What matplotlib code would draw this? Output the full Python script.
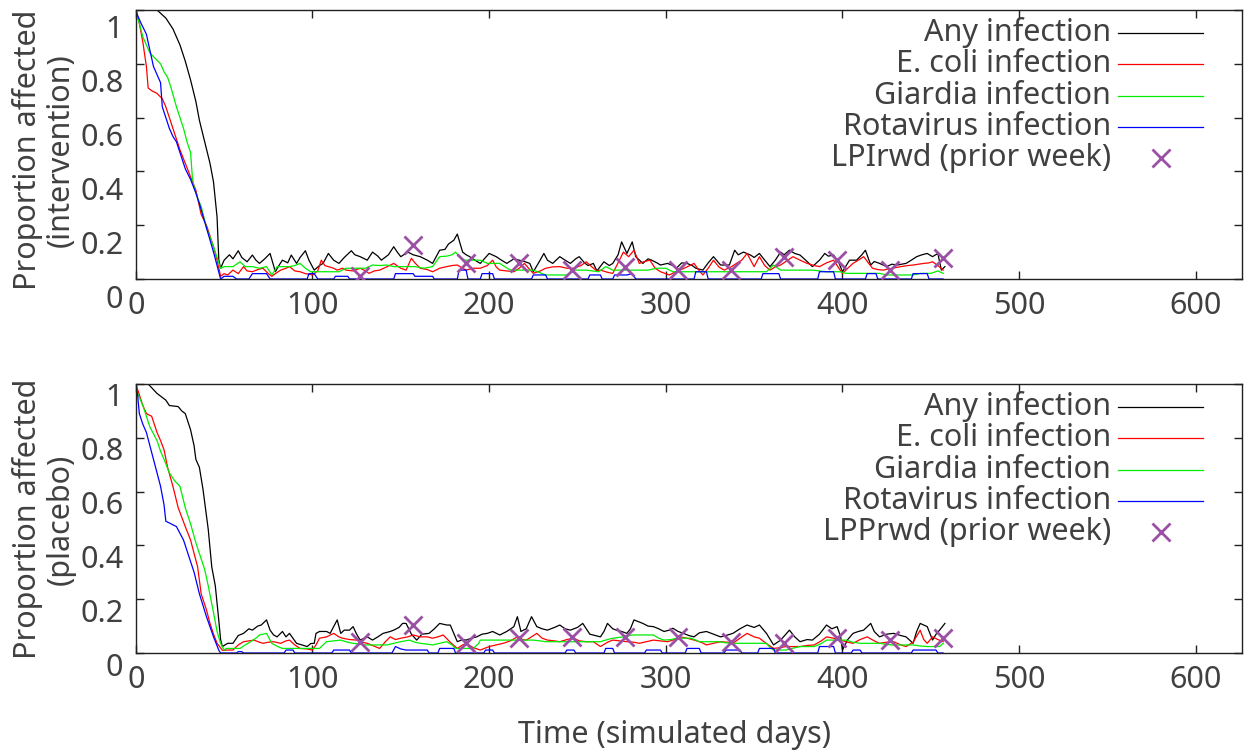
#
# Infection curves, intervention vs placebo (gnuplot look)
#
import numpy as np
import matplotlib
matplotlib.use("Agg")
import matplotlib.pyplot as plt
import matplotlib.transforms as mtransforms

plt.rcParams['font.family'] = ['Noto Sans', 'DejaVu Sans']

#
# Data: (day, proportion)
#
top_any = [(0,1.0),(12,1.0),(17,0.97),(21,0.93),(25,0.87),(28,0.81),(31,0.74),(34,0.66),(36,0.59),(39,0.51),(42,0.43),(44,0.36),(46,0.23),(47,0.07),(48,0.04),
           (50,0.07),(53,0.09),(55,0.075),(58,0.105),(60,0.08),(63,0.064),(66,0.089),(68,0.07),(70,0.058),(73,0.075),(76,0.095),(79,0.027),(81,0.05),(83,0.07),(86,0.06),
           (88,0.089),(91,0.058),(93,0.08),(96,0.105),(98,0.07),(101,0.033),(104,0.05),(106,0.058),(109,0.095),(112,0.07),(115,0.058),(118,0.08),(122,0.105),(124,0.09),
           (127,0.083),(131,0.07),(134,0.10),(137,0.085),(139,0.07),(143,0.09),(146,0.12),(148,0.10),(150,0.083),(154,0.10),(157,0.09),(161,0.083),(165,0.07),(168,0.058),
           (172,0.107),(175,0.11),(177,0.13),(180,0.144),(182,0.167),(185,0.10),(187,0.09),(189,0.083),(192,0.07),(195,0.058),(198,0.08),(200,0.095),(204,0.083),(207,0.07),
           (210,0.058),(214,0.075),(217,0.07),(220,0.065),(223,0.058),(225,0.027),(228,0.06),(231,0.095),(233,0.07),(236,0.058),(240,0.083),(243,0.07),(246,0.058),(249,0.075),
           (251,0.083),(254,0.06),(256,0.05),(259,0.058),(261,0.03),(265,0.064),(268,0.05),(270,0.058),(273,0.09),(275,0.138),(278,0.095),(281,0.138),(283,0.083),(287,0.058),
           (290,0.075),(292,0.07),(295,0.06),(297,0.052),(301,0.058),(304,0.05),(306,0.04),(309,0.06),(312,0.058),(315,0.05),(317,0.04),(321,0.033),(324,0.06),(327,0.083),
           (331,0.052),(336,0.052),(339,0.107),(341,0.09),(344,0.10),(348,0.089),(350,0.08),(353,0.095),(356,0.07),(359,0.046),(362,0.07),(365,0.10),(367,0.09),(370,0.107),
           (373,0.095),(376,0.089),(380,0.065),(383,0.046),(387,0.07),(390,0.095),(392,0.085),(395,0.089),(398,0.06),(400,0.027),(404,0.07),(408,0.07),(411,0.09),(413,0.107),
           (416,0.052),(418,0.065),(421,0.058),(425,0.046),(428,0.055),(431,0.052),(436,0.058),(439,0.07),(442,0.083),(445,0.09),(448,0.095),(451,0.083),(454,0.095),(456,0.033),(458,0.046)]

top_ecoli = [(0,1.0),(2,0.95),(4,0.88),(6,0.79),(7,0.71),(9,0.70),(12,0.69),(15,0.67),(17,0.64),(19,0.60),(21,0.56),(25,0.48),(28,0.43),(31,0.38),(34,0.33),(37,0.24),
             (40,0.20),(42,0.16),(44,0.12),(46,0.07),(48,0.01),
             (50,0.02),(52,0.015),(55,0.033),(58,0.02),(61,0.046),(63,0.03),(66,0.027),(69,0.035),(72,0.04),(75,0.02),(77,0.01),(79,0.02),(82,0.033),(85,0.04),(87,0.046),
             (90,0.03),(93,0.027),(96,0.02),(100,0.015),(103,0.03),(105,0.07),(107,0.05),(109,0.046),(112,0.04),(114,0.033),(117,0.04),(119,0.033),(123,0.03),(127,0.04),
             (130,0.03),(132,0.021),(135,0.03),(138,0.033),(142,0.045),(146,0.058),(150,0.04),(153,0.033),(156,0.077),(158,0.06),(161,0.04),(165,0.035),(168,0.027),(172,0.04),
             (176,0.046),(179,0.05),(182,0.052),(185,0.04),(187,0.033),(191,0.04),(195,0.04),(199,0.05),(202,0.07),(204,0.045),(206,0.033),(210,0.03),(214,0.027),(217,0.04),
             (220,0.058),(223,0.035),(225,0.021),(229,0.03),(232,0.04),(236,0.045),(240,0.046),(244,0.04),(248,0.04),(252,0.05),(255,0.064),(258,0.046),(261,0.03),(263,0.033),
             (267,0.025),(270,0.021),(273,0.06),(276,0.10),(279,0.083),(282,0.107),(285,0.058),(288,0.065),(291,0.07),(294,0.04),(297,0.027),(302,0.015),(305,0.025),(308,0.033),
             (312,0.045),(316,0.058),(319,0.03),(321,0.015),(324,0.04),(327,0.07),(330,0.045),(333,0.033),(337,0.045),(340,0.058),(343,0.07),(346,0.095),(350,0.046),(353,0.083),
             (356,0.05),(359,0.033),(362,0.045),(365,0.052),(369,0.07),(372,0.083),(376,0.07),(380,0.058),(384,0.05),(387,0.046),(391,0.06),(395,0.07),(398,0.04),(400,0.021),
             (403,0.04),(406,0.058),(409,0.07),(412,0.083),(417,0.04),(420,0.035),(423,0.033),(428,0.04),(433,0.046),(437,0.05),(440,0.052),(443,0.055),(446,0.058),(449,0.06),
             (451,0.064),(454,0.05),(457,0.033)]

top_giardia = [(0,1.0),(2,0.95),(4,0.90),(6,0.87),(8,0.84),(11,0.82),(14,0.80),(16,0.77),(18,0.75),(20,0.71),(23,0.64),(25,0.60),(27,0.56),(29,0.51),(31,0.47),(32,0.38),
               (33,0.34),(35,0.30),(37,0.27),(40,0.19),(44,0.12),(46,0.08),(48,0.04),
               (50,0.046),(55,0.046),(57,0.055),(59,0.064),(62,0.046),(66,0.046),(70,0.04),(74,0.046),(77,0.015),(80,0.046),(87,0.046),(90,0.05),(93,0.058),(96,0.04),(99,0.027),
               (104,0.027),(110,0.027),(115,0.027),(119,0.04),(125,0.04),(130,0.04),(134,0.052),(138,0.05),(142,0.052),(146,0.046),(150,0.046),(158,0.046),(163,0.04),(168,0.046),
               (172,0.083),(176,0.085),(179,0.09),(181,0.10),(183,0.085),(186,0.07),(190,0.07),(195,0.07),(199,0.058),(203,0.058),(206,0.058),(212,0.033),(218,0.033),(225,0.033),
               (232,0.015),(238,0.015),(244,0.015),(248,0.033),(255,0.033),(262,0.027),(266,0.046),(270,0.033),(280,0.033),(290,0.033),(295,0.04),(300,0.04),(304,0.027),(315,0.027),
               (330,0.027),(345,0.027),(357,0.027),(361,0.052),(365,0.033),(375,0.033),(383,0.033),(391,0.027),(399,0.027),(402,0.021),(412,0.021),(421,0.021),(425,0.015),(433,0.015),
               (440,0.015),(444,0.021),(450,0.021),(454,0.03),(457,0.021)]

top_rota = [(0,1.0),(1,0.98),(3,0.95),(6,0.91),(8,0.85),(10,0.79),(12,0.76),(14,0.73),(15,0.64),(17,0.60),(19,0.56),(21,0.53),(23,0.51),(26,0.45),(28,0.41),(31,0.37),
            (34,0.32),(36,0.28),(40,0.19),(44,0.10),(46,0.05),(48,0.0),
            (50,0.01),(55,0.01),(57,0.0),(64,0.0),(66,0.02),(74,0.02),(76,0.0),(97,0.0),(98,0.02),(101,0.02),(103,0.0),(112,0.0),(113,0.01),(120,0.01),(121,0.0),(146,0.0),
            (147,0.02),(157,0.02),(158,0.01),(168,0.01),(169,0.0),(182,0.0),(183,0.033),(187,0.033),(188,0.0),(195,0.0),(196,0.02),(202,0.02),(203,0.0),(224,0.0),(225,0.015),
            (232,0.015),(233,0.0),(256,0.0),(257,0.015),(263,0.015),(264,0.0),(270,0.0),(271,0.015),(278,0.015),(281,0.02),(283,0.0),(316,0.0),(317,0.027),(323,0.027),(324,0.0),
            (354,0.0),(355,0.02),(364,0.02),(365,0.0),(386,0.0),(387,0.027),(395,0.027),(396,0.0),(413,0.0),(414,0.02),(419,0.02),(420,0.0),(439,0.0),(440,0.02),(448,0.02),
            (449,0.0),(457,0.0)]

top_rwd_day = [127, 157, 187, 217, 247, 277, 307, 337, 367, 397, 427, 457]
top_rwd_val = [0.01, 0.128, 0.058, 0.058, 0.033, 0.046, 0.033, 0.033, 0.083, 0.07, 0.033, 0.077]

bot_any = [(0,1.0),(7,1.0),(12,0.965),(17,0.94),(19,0.92),(24,0.916),(26,0.90),(28,0.89),(31,0.83),(33,0.77),(34,0.72),(36,0.69),(38,0.61),(41,0.46),(43,0.32),
           (45,0.25),(47,0.12),(48,0.05),(49,0.024),
           (52,0.036),(55,0.036),(58,0.065),(61,0.073),(64,0.09),(66,0.085),(69,0.10),(71,0.104),(74,0.123),(76,0.085),(78,0.067),(80,0.06),(83,0.08),(85,0.06),(87,0.073),
           (91,0.036),(94,0.03),(97,0.024),(99,0.035),(101,0.036),(102,0.073),(104,0.08),(108,0.08),(110,0.073),(114,0.123),(116,0.073),(118,0.085),(121,0.085),(123,0.098),
           (125,0.07),(127,0.048),(131,0.06),(134,0.048),(137,0.06),(140,0.073),(144,0.08),(146,0.085),(149,0.095),(151,0.11),(153,0.11),(156,0.07),(159,0.048),(162,0.07),
           (166,0.073),(169,0.09),(172,0.11),(176,0.104),(178,0.104),(182,0.042),(185,0.05),(187,0.048),(190,0.055),(193,0.06),(196,0.07),(199,0.073),(202,0.08),(206,0.067),
           (210,0.08),(214,0.098),(216,0.135),(218,0.08),(221,0.09),(224,0.135),(227,0.098),(230,0.09),(233,0.085),(237,0.095),(240,0.104),(243,0.09),(246,0.085),(250,0.095),
           (253,0.11),(257,0.07),(260,0.065),(263,0.06),(265,0.08),(267,0.11),(270,0.09),(272,0.085),(275,0.08),(278,0.073),(280,0.09),(282,0.123),(285,0.115),(287,0.11),
           (290,0.10),(293,0.098),(296,0.09),(299,0.08),(302,0.085),(304,0.092),(307,0.08),(310,0.073),(313,0.065),(316,0.06),(319,0.075),(323,0.08),(327,0.07),(331,0.06),
           (334,0.065),(338,0.073),(342,0.09),(346,0.104),(350,0.095),(353,0.104),(357,0.073),(361,0.03),(365,0.048),(368,0.07),(370,0.085),(373,0.06),(376,0.042),(380,0.05),
           (383,0.048),(387,0.07),(391,0.104),(394,0.09),(397,0.098),(399,0.06),(400,0.011),(403,0.05),(406,0.073),(409,0.08),(412,0.085),(416,0.11),(418,0.08),(421,0.06),
           (425,0.07),(429,0.073),(433,0.065),(436,0.06),(440,0.036),(442,0.08),(444,0.11),(448,0.098),(451,0.048),(453,0.07),(455,0.085),(458,0.11)]

bot_ecoli = [(0,1.0),(2,0.96),(4,0.92),(6,0.89),(9,0.88),(12,0.82),(14,0.79),(16,0.755),(18,0.69),(21,0.62),(24,0.54),(28,0.47),(31,0.42),(33,0.37),(35,0.32),(37,0.22),
             (40,0.16),(42,0.11),(44,0.07),(46,0.036),(49,0.01),
             (52,0.011),(55,0.011),(58,0.03),(61,0.042),(64,0.045),(67,0.048),(70,0.04),(72,0.036),(75,0.04),(78,0.042),(82,0.036),(85,0.045),(87,0.048),(90,0.03),(93,0.017),
             (97,0.015),(100,0.011),(102,0.03),(104,0.055),(108,0.06),(112,0.073),(115,0.06),(117,0.055),(121,0.05),(125,0.048),(128,0.04),(131,0.036),(135,0.025),(138,0.017),
             (141,0.04),(144,0.06),(147,0.05),(150,0.055),(154,0.06),(157,0.067),(161,0.06),(165,0.06),(168,0.055),(171,0.06),(174,0.067),(178,0.04),(182,0.017),(185,0.03),
             (187,0.036),(191,0.02),(195,0.011),(200,0.024),(204,0.03),(208,0.036),(212,0.045),(216,0.06),(219,0.05),(221,0.048),(224,0.06),(227,0.073),(230,0.055),(233,0.048),
             (237,0.045),(240,0.042),(244,0.05),(248,0.055),(251,0.045),(255,0.042),(259,0.042),(263,0.024),(267,0.04),(270,0.048),(274,0.045),(278,0.042),(282,0.04),(285,0.036),
             (289,0.042),(293,0.048),(297,0.045),(301,0.042),(305,0.05),(308,0.06),(312,0.055),(316,0.048),(320,0.04),(323,0.03),(327,0.036),(331,0.042),(335,0.04),(338,0.036),
             (342,0.055),(346,0.073),(350,0.06),(353,0.055),(357,0.035),(361,0.017),(365,0.02),(368,0.024),(372,0.024),(376,0.024),(380,0.028),(384,0.03),(388,0.045),(391,0.06),
             (395,0.055),(399,0.048),(403,0.04),(406,0.036),(410,0.05),(414,0.06),(418,0.045),(421,0.036),(425,0.04),(429,0.042),(433,0.03),(436,0.024),(440,0.04),(444,0.085),
             (446,0.05),(448,0.036),(451,0.06),(454,0.05),(457,0.042)]

bot_giardia = [(0,1.0),(1,0.965),(4,0.92),(6,0.88),(8,0.84),(12,0.79),(14,0.75),(16,0.72),(19,0.67),(22,0.64),(25,0.62),(28,0.54),(31,0.48),(34,0.41),(37,0.35),(39,0.31),
               (41,0.25),(44,0.15),(46,0.08),(48,0.036),(50,0.01),
               (51,0.017),(59,0.017),(62,0.03),(65,0.042),(68,0.055),(70,0.067),(74,0.073),(77,0.036),(80,0.025),(83,0.017),(93,0.017),(104,0.017),(106,0.03),(108,0.042),(112,0.045),
               (116,0.048),(120,0.04),(123,0.036),(127,0.033),(130,0.03),(142,0.03),(146,0.036),(150,0.042),(155,0.048),(158,0.04),(161,0.036),(165,0.033),(168,0.03),(172,0.036),
               (176,0.042),(179,0.03),(181,0.017),(191,0.017),(194,0.035),(195,0.048),(210,0.048),(225,0.048),(229,0.045),(232,0.042),(244,0.042),(263,0.042),(267,0.05),(270,0.055),
               (276,0.06),(281,0.067),(293,0.067),(296,0.055),(299,0.048),(303,0.05),(306,0.055),(314,0.055),(317,0.048),(319,0.042),(330,0.042),(334,0.038),(338,0.036),(357,0.036),
               (359,0.02),(361,0.011),(368,0.011),(372,0.018),(376,0.024),(384,0.024),(388,0.035),(391,0.048),(402,0.048),(406,0.04),(410,0.036),(421,0.036),(425,0.032),(428,0.03),
               (440,0.03),(444,0.026),(448,0.024),(455,0.024),(457,0.036)]

bot_rota = [(0,1.0),(1,0.96),(2,0.89),(4,0.85),(6,0.82),(8,0.77),(10,0.72),(12,0.67),(14,0.62),(16,0.55),(17,0.49),(20,0.48),(23,0.47),(25,0.445),(27,0.42),(30,0.36),
            (33,0.30),(36,0.22),(40,0.135),(44,0.06),(47,0.01),(48,0.0),
            (57,0.0),(58,0.005),(60,0.005),(61,0.0),(84,0.0),(85,0.011),(89,0.011),(90,0.0),(111,0.0),(112,0.011),(121,0.011),(122,0.0),(145,0.0),(147,0.024),(150,0.015),
            (153,0.011),(165,0.011),(166,0.0),(171,0.0),(172,0.017),(180,0.017),(181,0.0),(197,0.0),(198,0.011),(202,0.011),(203,0.0),(243,0.0),(244,0.011),(248,0.011),(249,0.0),
            (265,0.0),(266,0.017),(270,0.017),(271,0.0),(288,0.0),(289,0.011),(297,0.011),(298,0.0),(311,0.0),(312,0.017),(319,0.017),(320,0.0),(333,0.0),(334,0.011),(342,0.011),
            (343,0.0),(352,0.0),(353,0.017),(361,0.017),(362,0.0),(386,0.0),(387,0.024),(395,0.024),(396,0.0),(405,0.0),(406,0.011),(410,0.011),(411,0.0),(439,0.0),(440,0.011),
            (453,0.011),(454,0.0),(457,0.0)]

bot_rwd_day = [127, 157, 187, 217, 247, 277, 307, 337, 367, 397, 427, 457]
bot_rwd_val = [0.042, 0.104, 0.036, 0.055, 0.06, 0.06, 0.06, 0.042, 0.036, 0.055, 0.048, 0.055]

series_names = ['Any infection', 'E. coli infection', 'Giardia infection', 'Rotavirus infection']
series_colors = ['#000000', '#ff0000', '#00ee00', '#0000ff']
marker_color = '#9b4fa5'
text_color = '#404040'

#
# Figure
#
W, H = 1244, 751
fig = plt.figure(figsize=(W / 100, H / 100), dpi=100)

def px_axes(left, top, right, bottom):
    return fig.add_axes([left / W, 1 - bottom / H, (right - left) / W, (bottom - top) / H])

ax_top = px_axes(135.8, 10, 1241.7, 279)
ax_bot = px_axes(135.8, 384, 1241.7, 653)

panels = [
    (ax_top, [top_any, top_ecoli, top_giardia, top_rota], top_rwd_day, top_rwd_val,
     'LPIrwd (prior week)', 'Proportion affected\n(intervention)', 17),
    (ax_bot, [bot_any, bot_ecoli, bot_giardia, bot_rota], bot_rwd_day, bot_rwd_val,
     'LPPrwd (prior week)', 'Proportion affected\n(placebo)', 11),
]

for ax, curves, mday, mval, mname, ylab, yoff in panels:
    for pts, col in zip(curves, series_colors):
        arr = np.array(pts)
        ax.plot(arr[:, 0], arr[:, 1], color=col, lw=0.9, zorder=2)
    ax.plot(mday, mval, ls='none', marker='x', ms=13, mew=2.0, color=marker_color, zorder=4)

    ax.set_xlim(0, 626)
    ax.set_ylim(0, 1)
    ax.set_xticks([0, 100, 200, 300, 400, 500, 600])
    ax.set_yticks([0, 0.2, 0.4, 0.6, 0.8, 1.0])
    ax.set_yticklabels(['0', '0.2', '0.4', '0.6', '0.8', '1'])
    ax.tick_params(direction='in', length=6, width=1.0, color='#202020',
                   top=True, right=True, labelsize=22, labelcolor=text_color)
    ax.tick_params(axis='x', pad=9)
    ax.tick_params(axis='y', pad=9)
    for s in ax.spines.values():
        s.set_color('#202020')
        s.set_linewidth(1.0)
    # gnuplot drops the y labels a little below their ticks
    off = mtransforms.ScaledTranslation(0, -yoff / 100, fig.dpi_scale_trans)
    for lab in ax.get_yticklabels():
        lab.set_transform(lab.get_transform() + off)

    # legend, text right-aligned with sample on the right
    y0, dy = 0.916, 0.117
    for i, (name, col) in enumerate(zip(series_names, series_colors)):
        y = y0 - i * dy
        ax.text(0.8818, y, name, transform=ax.transAxes, ha='right', va='center',
                fontsize=22, color=text_color)
        ax.plot([0.8882, 0.9651], [y, y], transform=ax.transAxes, color=col, lw=0.9)
    y = y0 - 4 * dy
    ax.text(0.8818, y, mname, transform=ax.transAxes, ha='right', va='center',
            fontsize=22, color=text_color)
    ax.plot([0.927], [y], transform=ax.transAxes, marker='x', ms=13, mew=2.0,
            color=marker_color, ls='none')

fig.text(44 / W, 1 - 150 / H, panels[0][5], rotation=90, ha='center', va='center',
         fontsize=22, color=text_color, linespacing=1.12)
fig.text(44 / W, 1 - 519 / H, panels[1][5], rotation=90, ha='center', va='center',
         fontsize=22, color=text_color, linespacing=1.12)
fig.text(675 / W, 1 - 743 / H, 'Time (simulated days)', ha='center', va='baseline',
         fontsize=22, color=text_color)

fig.savefig('out.png', dpi=100)
